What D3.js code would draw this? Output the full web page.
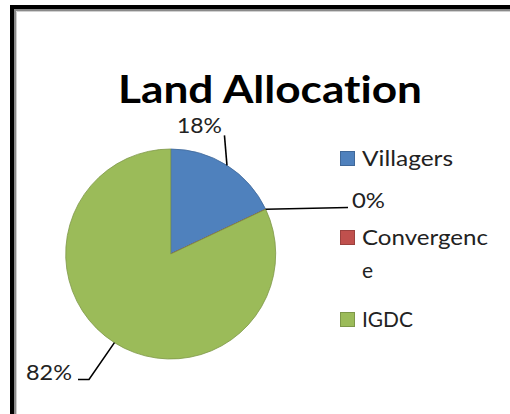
<!DOCTYPE html>
<html>
<head>
<meta charset="utf-8">
<script src="https://cdn.jsdelivr.net/npm/d3@7"></script>
<style>
  html, body { margin: 0; padding: 0; background: #fff; }
  svg { display: block; }
  text { font-family: Lato, "Open Sans", sans-serif; fill: #222; font-variant-ligatures: none; font-feature-settings: "liga" 0, "clig" 0; }
</style>
</head>
<body>
<svg id="chart" width="510" height="414"></svg>
<script>
const title = "Land Allocation";
const categories = ["Villagers", "Convergence", "IGDC"];
const values = [18, 0, 82];
const percentLabels = ["18%", "0%", "82%"];
const colors = ["#4F81BD", "#C0504D", "#9BBB59"];

const svg = d3.select("#chart");

// frame (left and top edges visible)
svg.append("rect").attr("x", 0).attr("y", 0).attr("width", 510).attr("height", 414).attr("fill", "#fff");
svg.append("path").attr("d", "M12,414 V7 H510").attr("fill", "none").attr("stroke", "#000").attr("stroke-width", 4);
svg.append("path").attr("d", "M15,414 V10 H510").attr("fill", "none").attr("stroke", "#8a8a8a").attr("stroke-width", 2);
svg.append("path").attr("d", "M16.5,414 V11.5 H510").attr("fill", "none").attr("stroke", "#d0d0d0").attr("stroke-width", 1);

// title
svg.append("text").attr("x", 270).attr("y", 103).attr("text-anchor", "middle")
  .style("font-weight", "bold").style("font-size", "38px").style("fill", "#000")
  .attr("textLength", 304).attr("lengthAdjust", "spacingAndGlyphs")
  .text(title);

// pie
const cx = 170.7, cy = 254, R = 105;
const pie = d3.pie().sort(null).value(d => d);
const arcs = pie(values);
const arc = d3.arc().innerRadius(0).outerRadius(R);
const g = svg.append("g").attr("transform", `translate(${cx},${cy})`);
g.selectAll("path.slice").data(arcs).join("path")
  .attr("class", "slice")
  .attr("d", arc)
  .attr("fill", (d, i) => colors[i])
  .attr("stroke", (d, i) => d3.color(colors[i]).darker(0.6))
  .attr("stroke-width", 0.8);

// data labels with leader lines
function edgePoint(d) {
  const a = (d.startAngle + d.endAngle) / 2;
  return [cx + R * Math.sin(a), cy - R * Math.cos(a)];
}
const lineStyle = sel => sel.attr("fill", "none").attr("stroke", "#000").attr("stroke-width", 1.6);
const FS = "21px";

// Villagers
{
  const p = edgePoint(arcs[0]);
  svg.append("path").attr("d", `M${p[0]},${p[1]} L${p[0] - 2.5},${p[1] - 30}`).call(lineStyle);
  svg.append("text").attr("x", p[0] - 5).attr("y", p[1] - 32).attr("text-anchor", "end")
    .style("font-size", FS).attr("textLength", 45).attr("lengthAdjust", "spacingAndGlyphs").text(percentLabels[0]);
}
// Convergence
{
  const p = edgePoint(arcs[1]);
  svg.append("path").attr("d", `M${p[0]},${p[1]} L348,207.5`).call(lineStyle);
  svg.append("text").attr("x", 352).attr("y", 208)
    .style("font-size", FS).attr("textLength", 33).attr("lengthAdjust", "spacingAndGlyphs").text(percentLabels[1]);
}
// IGDC
{
  const p = edgePoint(arcs[2]);
  svg.append("path").attr("d", `M${p[0]},${p[1]} L89,379.5 L78,379.5`).call(lineStyle);
  svg.append("text").attr("x", 26).attr("y", 380)
    .style("font-size", FS).attr("textLength", 46).attr("lengthAdjust", "spacingAndGlyphs").text(percentLabels[2]);
}

// legend
const legendRows = [
  { y: 151, lines: ["Villagers"], widths: [91] },
  { y: 230, lines: ["Convergenc", "e"], widths: [126, null] },
  { y: 312, lines: ["IGDC"], widths: [51] }
];
legendRows.forEach((row, i) => {
  svg.append("rect").attr("x", 340.5).attr("y", row.y + 0.5).attr("width", 14).attr("height", 14)
    .attr("fill", colors[i]).attr("stroke", d3.color(colors[i]).darker(0.6)).attr("stroke-width", 1);
  row.lines.forEach((t, j) => {
    const tx = svg.append("text").attr("x", 362).attr("y", row.y + 15 + j * 33)
      .style("font-size", FS).text(t);
    if (row.widths[j]) tx.attr("textLength", row.widths[j]).attr("lengthAdjust", "spacingAndGlyphs");
  });
});
</script>
</body>
</html>
